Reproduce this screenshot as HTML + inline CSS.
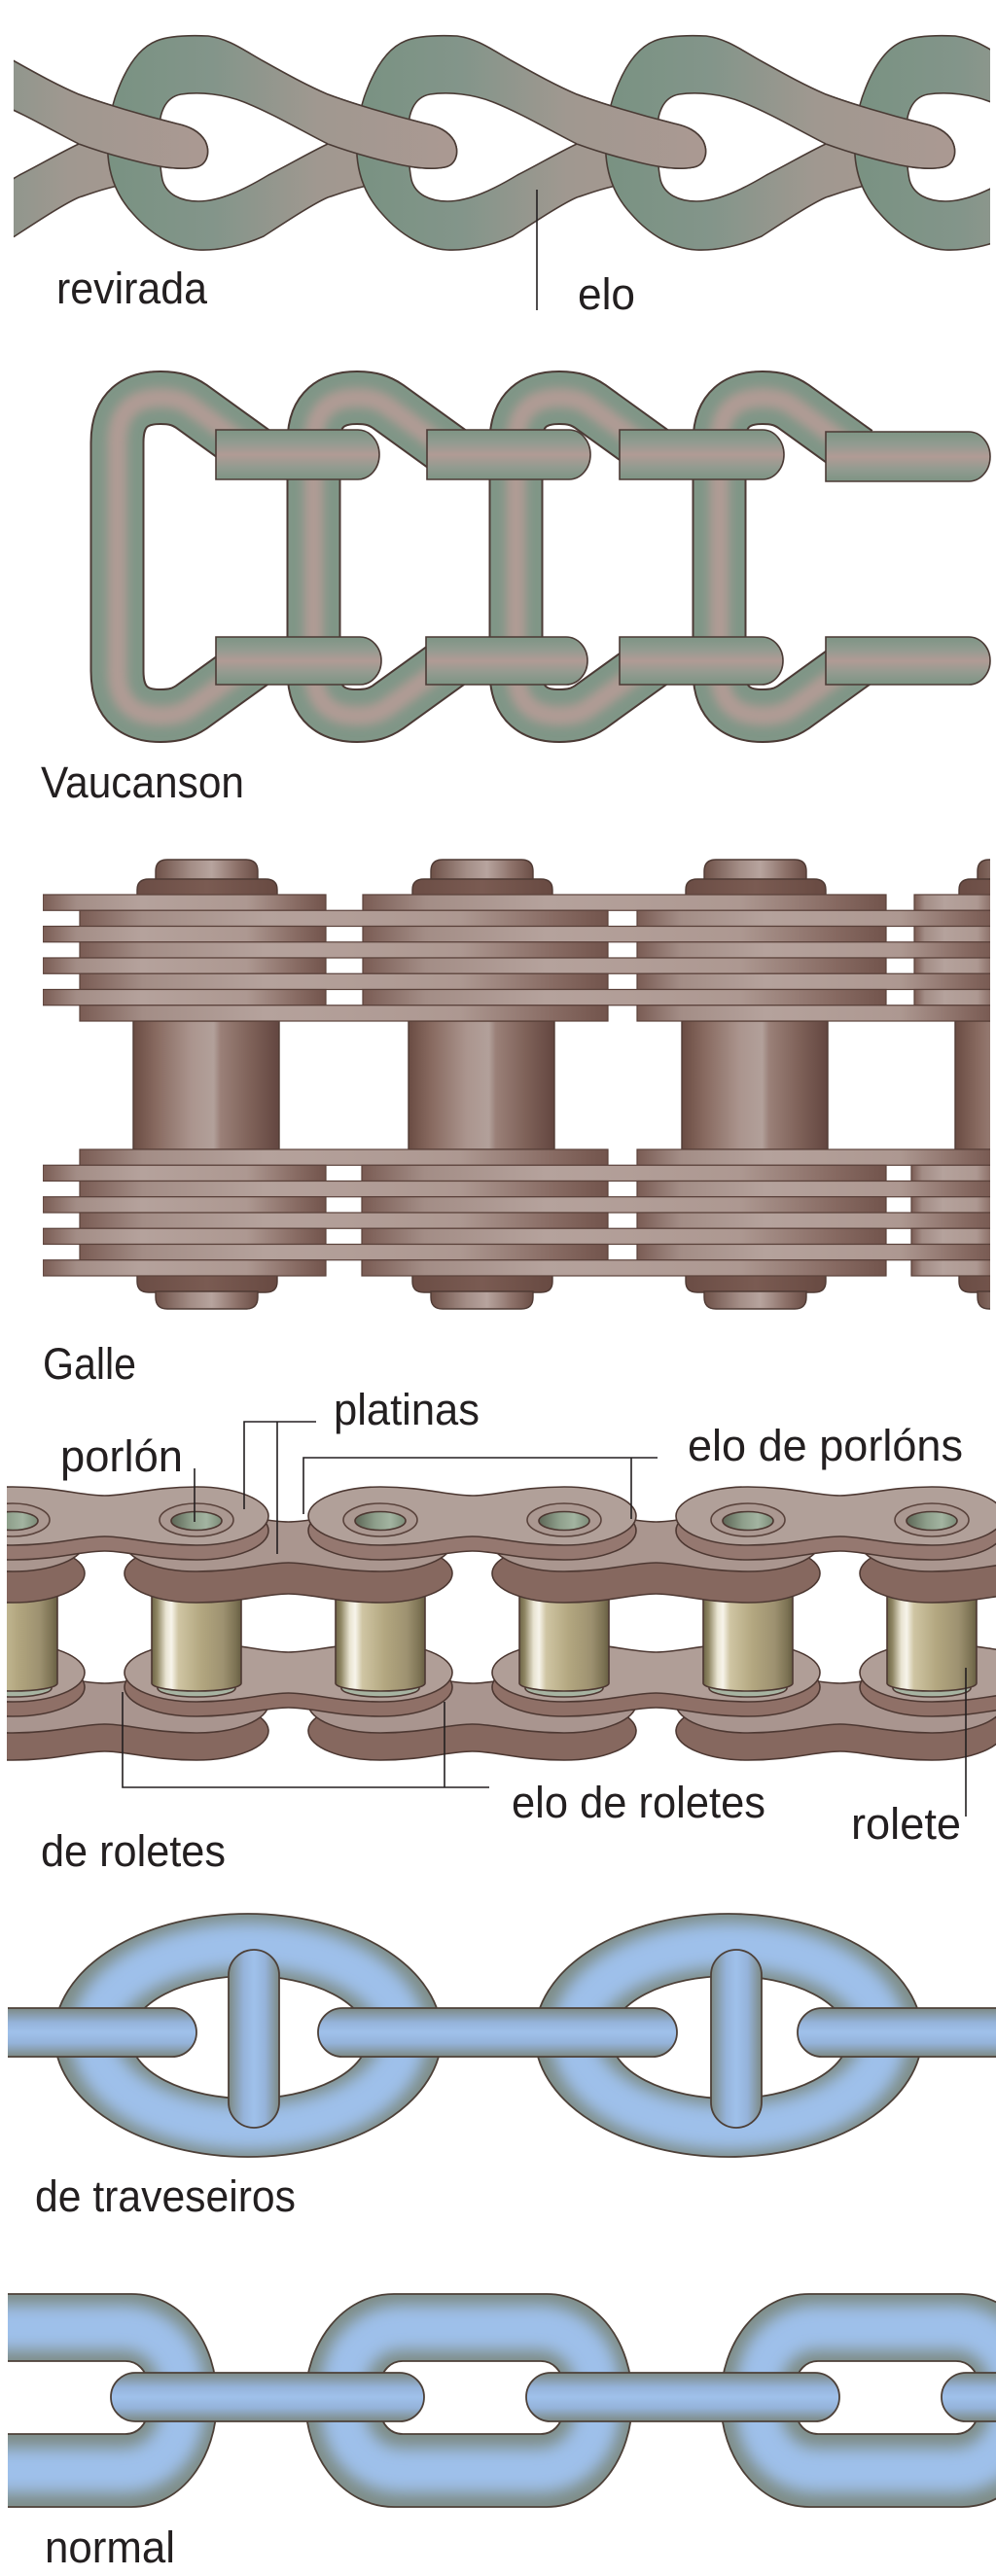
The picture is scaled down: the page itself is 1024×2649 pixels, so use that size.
<!DOCTYPE html>
<html><head><meta charset="utf-8"><style>
html,body{margin:0;padding:0;background:#fff}
svg{display:block}
text{font-family:"Liberation Sans",Arial,sans-serif;font-size:45px;fill:#231f20}
</style></head>
<body>
<svg xmlns="http://www.w3.org/2000/svg" xmlns:xlink="http://www.w3.org/1999/xlink" width="1024" height="2649" viewBox="0 0 1024 2649">
<defs>
<linearGradient id="gRev" gradientUnits="userSpaceOnUse" x1="0" y1="0" x2="360" y2="0">
<stop offset="0" stop-color="#799282"/><stop offset="0.3" stop-color="#83958a"/><stop offset="0.6" stop-color="#a09890"/><stop offset="1" stop-color="#ab9992"/></linearGradient>
<linearGradient id="gVB" x1="0" y1="0" x2="0" y2="1">
<stop offset="0" stop-color="#7d9484"/><stop offset="0.25" stop-color="#919b90"/><stop offset="0.5" stop-color="#b19b95"/><stop offset="0.75" stop-color="#939b90"/><stop offset="1" stop-color="#7d9484"/></linearGradient>
<linearGradient id="gPl" x1="0" y1="0" x2="1" y2="0">
<stop offset="0" stop-color="#7a5c54"/><stop offset="0.12" stop-color="#a38d86"/><stop offset="0.35" stop-color="#b5a29c"/><stop offset="0.72" stop-color="#ad9891"/><stop offset="0.9" stop-color="#876a62"/><stop offset="1" stop-color="#72544c"/></linearGradient>
<linearGradient id="gGR" x1="0" y1="0" x2="1" y2="0">
<stop offset="0" stop-color="#6a4c43"/><stop offset="0.15" stop-color="#87695f"/><stop offset="0.4" stop-color="#ab958e"/><stop offset="0.55" stop-color="#b2a09a"/><stop offset="0.6" stop-color="#9a8078"/><stop offset="0.8" stop-color="#7f6259"/><stop offset="1" stop-color="#634640"/></linearGradient>
<linearGradient id="gCS" x1="0" y1="0" x2="1" y2="0">
<stop offset="0" stop-color="#6e5148"/><stop offset="0.35" stop-color="#a48e87"/><stop offset="0.55" stop-color="#b7a49e"/><stop offset="0.8" stop-color="#8c7068"/><stop offset="1" stop-color="#6c4f47"/></linearGradient>
<linearGradient id="gCB" x1="0" y1="0" x2="1" y2="0">
<stop offset="0" stop-color="#6b4d45"/><stop offset="0.5" stop-color="#7a5b52"/><stop offset="1" stop-color="#684a42"/></linearGradient>
<linearGradient id="gGold" x1="0" y1="0" x2="1" y2="0">
<stop offset="0" stop-color="#6d6446"/><stop offset="0.06" stop-color="#8f8663"/><stop offset="0.16" stop-color="#e9e4d2"/><stop offset="0.22" stop-color="#f7f4ea"/><stop offset="0.3" stop-color="#cfc5a3"/><stop offset="0.55" stop-color="#b3a780"/><stop offset="0.8" stop-color="#9d9170"/><stop offset="0.94" stop-color="#7c7253"/><stop offset="1" stop-color="#675e42"/></linearGradient>
<linearGradient id="gHole" x1="0" y1="0" x2="1" y2="0">
<stop offset="0" stop-color="#5d6656"/><stop offset="0.4" stop-color="#8e9f8b"/><stop offset="0.7" stop-color="#a3b4a1"/><stop offset="1" stop-color="#7b8a77"/></linearGradient>
<linearGradient id="gBV" x1="0" y1="0" x2="0" y2="1">
<stop offset="0" stop-color="#7d8a85"/><stop offset="0.3" stop-color="#95b3da"/><stop offset="0.5" stop-color="#9fc1eb"/><stop offset="0.72" stop-color="#95b3da"/><stop offset="1" stop-color="#7d8a85"/></linearGradient>
<linearGradient id="gBH" x1="0" y1="0" x2="1" y2="0">
<stop offset="0" stop-color="#7d8a85"/><stop offset="0.3" stop-color="#95b3da"/><stop offset="0.5" stop-color="#9fc1eb"/><stop offset="0.72" stop-color="#95b3da"/><stop offset="1" stop-color="#7d8a85"/></linearGradient>

<filter id="bl5" x="-50%" y="-50%" width="200%" height="200%"><feGaussianBlur stdDeviation="5"/></filter>
<filter id="bl8" x="-50%" y="-50%" width="200%" height="200%"><feGaussianBlur stdDeviation="8"/></filter>

<clipPath id="cRev"><rect x="14" y="0" width="1004" height="300"/></clipPath>
<clipPath id="cGal"><rect x="44" y="850" width="974" height="520"/></clipPath>
<clipPath id="cRol"><rect x="7" y="1520" width="1017" height="310"/></clipPath>
<clipPath id="cTr"><rect x="8" y="1950" width="1016" height="290"/></clipPath>
<clipPath id="cNo"><rect x="8" y="2340" width="1016" height="260"/></clipPath>
<clipPath id="cTR"><path clip-rule="evenodd" d="M 56 2093 A 199 125 0 1 0 454 2093 A 199 125 0 1 0 56 2093 Z M 134 2095 A 122 63 0 1 0 378 2095 A 122 63 0 1 0 134 2095 Z"/></clipPath>
<clipPath id="cNL"><path clip-rule="evenodd" d="M 405 2359 L 562 2359 C 615 2359 650 2410 650 2468 C 650 2526 615 2578 562 2578 L 405 2578 C 352 2578 314 2526 314 2468 C 314 2410 352 2359 405 2359 Z M 414 2428 L 556 2428 A 22 22 0 0 1 578 2450 L 578 2481 A 22 22 0 0 1 556 2503 L 414 2503 A 22 22 0 0 1 392 2481 L 392 2450 A 22 22 0 0 1 414 2428 Z"/></clipPath>

<path id="revMain" d="M 0 160 C 0 130, 3 110, 10 93 C 18 72, 30 50, 50 42 C 62 37, 80 36, 103 37 C 125 40, 140 52, 160 63 C 185 77, 205 88, 226 97 C 250 106, 290 118, 326 127 C 340 130, 350 135, 356 145 C 362 158, 357 170, 346 172 C 330 175, 310 172, 290 167 L 300 185 L 262 192 C 245 196, 236 200, 226 203 C 210 210, 180 230, 160 243 C 140 252, 115 258, 93 257 C 70 256, 45 242, 26 220 C 12 205, 2 185, 0 160 Z M 53 137 C 52 118, 58 100, 75 97 C 95 94, 120 97, 140 105 C 170 117, 200 135, 226 148 C 205 158, 185 170, 165 180 C 140 195, 115 207, 93 207 C 75 207, 60 200, 56 185 C 53 170, 53 155, 53 137 Z"/>
<path id="revOv" d="M 226 97 C 250 106, 290 118, 326 127 C 340 130, 350 135, 356 145 C 362 158, 357 170, 346 172 C 330 175, 310 172, 290 167 C 265 161, 245 155, 226 148"/>

<path id="vcP" d="M 262 465 L 197 418 C 188 412, 180 409, 165 409 C 140 409, 120.5 420, 120.5 455 L 120.5 690 C 120.5 725, 140 736, 165 736 C 180 736, 188 733, 197 727 L 262 680"/>
<g id="vc">
<use href="#vcP" fill="none" stroke="#4b3a35" stroke-width="56"/>
<use href="#vcP" fill="none" stroke="#809687" stroke-width="52"/>
<use href="#vcP" fill="none" stroke="#b09b94" stroke-width="20" filter="url(#bl5)"/>
</g>

<g id="gcol" stroke="#4f3a34" stroke-width="1.4">
<path d="M 23 905 V 896 Q 23 884 35 884 H 116 Q 128 884 128 896 V 905 Z" fill="url(#gCS)"/>
<path d="M 4 921 V 915 Q 4 904 16 904 H 136 Q 148 904 148 915 V 921 Z" fill="url(#gCB)"/>
<path d="M 4 1311 V 1318 Q 4 1329 16 1329 H 136 Q 148 1329 148 1318 V 1311 Z" fill="url(#gCB)"/>
<path d="M 23 1328 V 1334 Q 23 1346 35 1346 H 116 Q 128 1346 128 1334 V 1328 Z" fill="url(#gCS)"/>
<rect x="0" y="1050" width="150" height="132" fill="url(#gGR)"/>
</g>

<path id="db" d="M 0 -30 C 45 -30 70 -21 94.5 -21 C 119 -21 144 -30 189 -30 C 230 -30 263 -16.5 263 0 C 263 16.5 230 30 189 30 C 144 30 119 21 94.5 21 C 70 21 45 30 0 30 C -41 30 -74 16.5 -74 0 C -74 -16.5 -41 -30 0 -30 Z"/>
</defs>

<rect width="1024" height="2649" fill="#fff"/>

<!-- ============ revirada ============ -->
<g clip-path="url(#cRev)" fill="url(#gRev)" stroke="#4a3b35" stroke-width="1.6" fill-rule="evenodd">
<use href="#revMain" transform="translate(-145,0)"/>
<use href="#revMain" transform="translate(111,0)"/>
<use href="#revMain" transform="translate(367,0)"/>
<use href="#revMain" transform="translate(623,0)"/>
<use href="#revMain" transform="translate(879,0)"/>
<use href="#revOv" transform="translate(-145,0)"/>
<use href="#revOv" transform="translate(111,0)"/>
<use href="#revOv" transform="translate(367,0)"/>
<use href="#revOv" transform="translate(623,0)"/>
<use href="#revOv" transform="translate(879,0)"/>
</g>
<line x1="552" y1="195" x2="552" y2="319" stroke="#231f20" stroke-width="1.6"/>
<text x="58" y="312" textLength="155" lengthAdjust="spacingAndGlyphs">revirada</text>
<text x="594" y="318" textLength="59" lengthAdjust="spacingAndGlyphs">elo</text>

<!-- ============ Vaucanson ============ -->
<use href="#vc"/>
<use href="#vc" transform="translate(202,0)"/>
<use href="#vc" transform="translate(410,0)"/>
<use href="#vc" transform="translate(619,0)"/>
<g fill="url(#gVB)" stroke="#4b3a35" stroke-width="1.6">
<path d="M 222 442 H 368 A 22 25.5 0 0 1 368 493 H 222 Z"/>
<path d="M 439 442 H 585 A 22 25.5 0 0 1 585 493 H 439 Z"/>
<path d="M 637 442 H 784 A 22 25.5 0 0 1 784 493 H 637 Z"/>
<path d="M 849 444 H 996 A 22 25.5 0 0 1 996 495 H 849 Z"/>
<path d="M 222 655 H 370 A 22 24.5 0 0 1 370 704 H 222 Z"/>
<path d="M 438 655 H 582 A 22 24.5 0 0 1 582 704 H 438 Z"/>
<path d="M 637 655 H 783 A 22 24.5 0 0 1 783 704 H 637 Z"/>
<path d="M 849 655 H 996 A 22 24.5 0 0 1 996 704 H 849 Z"/>
</g>
<text x="42" y="820" textLength="209" lengthAdjust="spacingAndGlyphs">Vaucanson</text>

<!-- ============ Galle ============ -->
<g clip-path="url(#cGal)">
<use href="#gcol" transform="translate(137,0)"/>
<use href="#gcol" transform="translate(420,0)"/>
<use href="#gcol" transform="translate(701,0)"/>
<use href="#gcol" transform="translate(982,0)"/>
<g fill="url(#gPl)" stroke="#5a413a" stroke-width="1.2">
<!-- top stack -->
<rect x="44" y="920" width="291" height="16.25"/><rect x="373" y="920" width="538" height="16.25"/><rect x="940" y="920" width="90" height="16.25"/>
<rect x="82" y="936.25" width="543" height="16.25"/><rect x="655" y="936.25" width="375" height="16.25"/>
<rect x="44" y="952.5" width="291" height="16.25"/><rect x="373" y="952.5" width="538" height="16.25"/><rect x="940" y="952.5" width="90" height="16.25"/>
<rect x="82" y="968.75" width="543" height="16.25"/><rect x="655" y="968.75" width="375" height="16.25"/>
<rect x="44" y="985" width="291" height="16.25"/><rect x="373" y="985" width="538" height="16.25"/><rect x="940" y="985" width="90" height="16.25"/>
<rect x="82" y="1001.25" width="543" height="16.25"/><rect x="655" y="1001.25" width="375" height="16.25"/>
<rect x="44" y="1017.5" width="291" height="16.25"/><rect x="373" y="1017.5" width="538" height="16.25"/><rect x="940" y="1017.5" width="90" height="16.25"/>
<rect x="82" y="1033.75" width="543" height="16.25"/><rect x="655" y="1033.75" width="375" height="16.25"/>
<!-- bottom stack -->
<rect x="82" y="1182" width="543" height="16.25"/><rect x="655" y="1182" width="375" height="16.25"/>
<rect x="44" y="1198.25" width="291" height="16.25"/><rect x="372" y="1198.25" width="539" height="16.25"/><rect x="937" y="1198.25" width="93" height="16.25"/>
<rect x="82" y="1214.5" width="543" height="16.25"/><rect x="655" y="1214.5" width="375" height="16.25"/>
<rect x="44" y="1230.75" width="291" height="16.25"/><rect x="372" y="1230.75" width="539" height="16.25"/><rect x="937" y="1230.75" width="93" height="16.25"/>
<rect x="82" y="1247" width="543" height="16.25"/><rect x="655" y="1247" width="375" height="16.25"/>
<rect x="44" y="1263.25" width="291" height="16.25"/><rect x="372" y="1263.25" width="539" height="16.25"/><rect x="937" y="1263.25" width="93" height="16.25"/>
<rect x="82" y="1279.5" width="543" height="16.25"/><rect x="655" y="1279.5" width="375" height="16.25"/>
<rect x="44" y="1295.75" width="291" height="16.25"/><rect x="372" y="1295.75" width="539" height="16.25"/><rect x="937" y="1295.75" width="93" height="16.25"/>
</g>
</g>
<text x="44" y="1418" textLength="96" lengthAdjust="spacingAndGlyphs">Galle</text>

<!-- ============ de roletes ============ -->
<g clip-path="url(#cRol)" stroke="#4d3832" stroke-width="1.6">
<!-- lower back plates -->
<g fill="#86685f">
<use href="#db" transform="translate(13,1780)"/><use href="#db" transform="translate(391,1780)"/><use href="#db" transform="translate(769,1780)"/>
</g>
<g fill="#a9958f">
<use href="#db" transform="translate(13,1752)"/><use href="#db" transform="translate(391,1752)"/><use href="#db" transform="translate(769,1752)"/>
</g>
<!-- lower front plates -->
<g fill="#8f7067">
<use href="#db" transform="translate(-176,1735)"/><use href="#db" transform="translate(202,1735)"/><use href="#db" transform="translate(580,1735)"/><use href="#db" transform="translate(958,1735)"/>
</g>
<g fill="#b09e97">
<use href="#db" transform="translate(-176,1720)"/><use href="#db" transform="translate(202,1720)"/><use href="#db" transform="translate(580,1720)"/><use href="#db" transform="translate(958,1720)"/>
</g>
<!-- rollers -->
<g fill="#a7b4a2">
<ellipse cx="13" cy="1736" rx="40" ry="9"/><ellipse cx="202" cy="1736" rx="40" ry="9"/><ellipse cx="391" cy="1736" rx="40" ry="9"/>
<ellipse cx="580" cy="1736" rx="40" ry="9"/><ellipse cx="769" cy="1736" rx="40" ry="9"/><ellipse cx="958" cy="1736" rx="40" ry="9"/>
</g>
<g fill="url(#gGold)">
<path d="M -33 1600 V 1731 A 46 8 0 0 0 59 1731 V 1600 Z"/>
<path d="M 156 1600 V 1731 A 46 8 0 0 0 248 1731 V 1600 Z"/>
<path d="M 345 1600 V 1731 A 46 8 0 0 0 437 1731 V 1600 Z"/>
<path d="M 534 1600 V 1731 A 46 8 0 0 0 626 1731 V 1600 Z"/>
<path d="M 723 1600 V 1731 A 46 8 0 0 0 815 1731 V 1600 Z"/>
<path d="M 912 1600 V 1731 A 46 8 0 0 0 1004 1731 V 1600 Z"/>
</g>
<!-- upper back plates -->
<g fill="#86685f">
<use href="#db" transform="translate(-176,1618)"/><use href="#db" transform="translate(202,1618)"/><use href="#db" transform="translate(580,1618)"/><use href="#db" transform="translate(958,1618)"/>
</g>
<g fill="#aa968f">
<use href="#db" transform="translate(-176,1586)"/><use href="#db" transform="translate(202,1586)"/><use href="#db" transform="translate(580,1586)"/><use href="#db" transform="translate(958,1586)"/>
</g>
<!-- upper top plates -->
<g fill="#957870">
<use href="#db" transform="translate(13,1574)"/><use href="#db" transform="translate(391,1574)"/><use href="#db" transform="translate(769,1574)"/>
</g>
<g fill="#b1a099">
<use href="#db" transform="translate(13,1559)"/><use href="#db" transform="translate(391,1559)"/><use href="#db" transform="translate(769,1559)"/>
</g>
<!-- rings -->
<g fill="#ab9891" stroke="#5a433c">
<ellipse cx="13" cy="1563" rx="38" ry="17"/><ellipse cx="202" cy="1563" rx="38" ry="17"/><ellipse cx="391" cy="1563" rx="38" ry="17"/>
<ellipse cx="580" cy="1563" rx="38" ry="17"/><ellipse cx="769" cy="1563" rx="38" ry="17"/><ellipse cx="958" cy="1563" rx="38" ry="17"/>
</g>
<g fill="url(#gHole)">
<ellipse cx="13" cy="1564" rx="26" ry="9.5"/><ellipse cx="202" cy="1564" rx="26" ry="9.5"/><ellipse cx="391" cy="1564" rx="26" ry="9.5"/>
<ellipse cx="580" cy="1564" rx="26" ry="9.5"/><ellipse cx="769" cy="1564" rx="26" ry="9.5"/><ellipse cx="958" cy="1564" rx="26" ry="9.5"/>
</g>
</g>
<!-- leader lines -->
<g stroke="#231f20" stroke-width="1.6" fill="none">
<line x1="200" y1="1510" x2="200" y2="1565"/>
<polyline points="325,1462 251,1462 251,1552"/>
<line x1="285" y1="1462" x2="285" y2="1598"/>
<polyline points="312,1557 312,1499 676,1499"/>
<line x1="649" y1="1499" x2="649" y2="1562"/>
<polyline points="126,1740 126,1838 503,1838"/>
<line x1="457" y1="1750" x2="457" y2="1838"/>
<line x1="993" y1="1715" x2="993" y2="1868"/>
</g>
<text x="343" y="1465" textLength="150" lengthAdjust="spacingAndGlyphs">platinas</text>
<text x="62" y="1513" textLength="126" lengthAdjust="spacingAndGlyphs">porlón</text>
<text x="707" y="1502" textLength="283" lengthAdjust="spacingAndGlyphs">elo de porlóns</text>
<text x="526" y="1869" textLength="261" lengthAdjust="spacingAndGlyphs">elo de roletes</text>
<text x="875" y="1891" textLength="113" lengthAdjust="spacingAndGlyphs">rolete</text>
<text x="42" y="1919" textLength="190" lengthAdjust="spacingAndGlyphs">de roletes</text>

<!-- ============ de traveseiros ============ -->
<g clip-path="url(#cTr)">
<g id="tr1">
<path d="M 56 2093 A 199 125 0 1 0 454 2093 A 199 125 0 1 0 56 2093 Z M 134 2095 A 122 63 0 1 0 378 2095 A 122 63 0 1 0 134 2095 Z" fill="#7e8d88" fill-rule="evenodd"/>
<g clip-path="url(#cTR)"><ellipse cx="255.5" cy="2094" rx="160" ry="94" fill="none" stroke="#9ec0ea" stroke-width="46" filter="url(#bl8)"/></g>
<path d="M 56 2093 A 199 125 0 1 0 454 2093 A 199 125 0 1 0 56 2093 Z M 134 2095 A 122 63 0 1 0 378 2095 A 122 63 0 1 0 134 2095 Z" fill="none" stroke="#4d4038" stroke-width="1.8"/>
</g>
<use href="#tr1" transform="translate(494,0)"/>
<g stroke="#4d4038" stroke-width="1.8">
<rect x="235" y="2005" width="52" height="183" rx="26" fill="url(#gBH)"/>
<rect x="731" y="2005" width="52" height="183" rx="26" fill="url(#gBH)"/>
<rect x="-100" y="2065" width="302" height="50" rx="25" fill="url(#gBV)"/>
<rect x="327" y="2065" width="369" height="50" rx="25" fill="url(#gBV)"/>
<rect x="820" y="2065" width="320" height="50" rx="25" fill="url(#gBV)"/>
</g>
</g>
<text x="36" y="2274" textLength="268" lengthAdjust="spacingAndGlyphs">de traveseiros</text>

<!-- ============ normal ============ -->
<g clip-path="url(#cNo)">
<g id="nl">
<path d="M 405 2359 L 562 2359 C 615 2359 650 2410 650 2468 C 650 2526 615 2578 562 2578 L 405 2578 C 352 2578 314 2526 314 2468 C 314 2410 352 2359 405 2359 Z M 414 2428 L 556 2428 A 22 22 0 0 1 578 2450 L 578 2481 A 22 22 0 0 1 556 2503 L 414 2503 A 22 22 0 0 1 392 2481 L 392 2450 A 22 22 0 0 1 414 2428 Z" fill="#7e8d88" fill-rule="evenodd"/>
<g clip-path="url(#cNL)"><rect x="353" y="2393.5" width="261" height="147" rx="60" fill="none" stroke="#9ec0ea" stroke-width="46" filter="url(#bl8)"/></g>
<path d="M 405 2359 L 562 2359 C 615 2359 650 2410 650 2468 C 650 2526 615 2578 562 2578 L 405 2578 C 352 2578 314 2526 314 2468 C 314 2410 352 2359 405 2359 Z M 414 2428 L 556 2428 A 22 22 0 0 1 578 2450 L 578 2481 A 22 22 0 0 1 556 2503 L 414 2503 A 22 22 0 0 1 392 2481 L 392 2450 A 22 22 0 0 1 414 2428 Z" fill="none" stroke="#4d4038" stroke-width="1.8"/>
</g>
<use href="#nl" transform="translate(-427,0)"/>
<use href="#nl" transform="translate(427,0)"/>
<g stroke="#4d4038" stroke-width="1.8" fill="url(#gBV)">
<rect x="114" y="2440" width="322" height="50" rx="25"/>
<rect x="541" y="2440" width="322" height="50" rx="25"/>
<rect x="968" y="2440" width="322" height="50" rx="25"/>
</g>
</g>
<text x="46" y="2635" textLength="134" lengthAdjust="spacingAndGlyphs">normal</text>
</svg>
</body></html>
